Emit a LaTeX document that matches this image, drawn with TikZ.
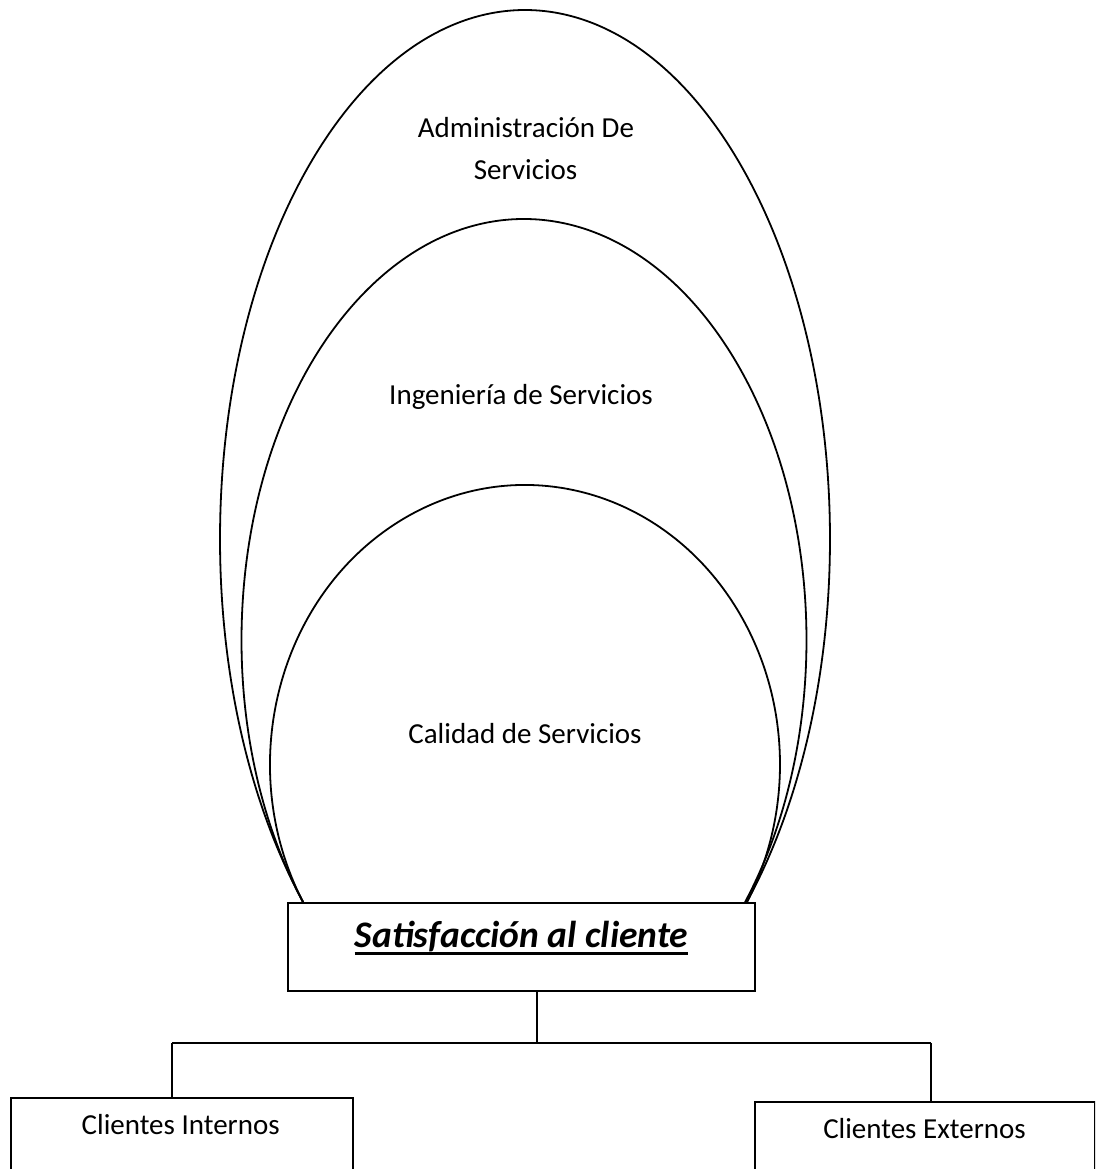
\documentclass[tikz,border=0pt]{standalone}
\usepackage{fontspec}
\setmainfont{Carlito}
\begin{document}
\begin{tikzpicture}[x=1pt,y=1pt,
  line/.style={line width=1.8pt},
  box/.style={draw, line width=2pt, inner sep=0pt},
  lbl/.style={inner sep=0pt, anchor=base, font=\fontsize{29}{42}\selectfont},
  title/.style={inner sep=0pt, anchor=base, font=\fontsize{37.5}{45}\selectfont\bfseries\itshape},
]
\useasboundingbox (0,0) rectangle (1095,1169);
\clip (0,0) rectangle (1095,1169);

% nested elliptical arcs resting on the central box
\draw[line] (525,630) ++(223.3:305pt and 529pt)
  arc[start angle=223.3, end angle=-43.3, x radius=305pt, y radius=529pt];
\draw[line] (524,529) ++(218.5:282.5pt and 421pt)
  arc[start angle=218.5, end angle=-38.5, x radius=282.5pt, y radius=421pt];
\draw[line] (525,404.5) ++(209.5:255pt and 279.5pt)
  arc[start angle=209.5, end angle=-29.5, x radius=255pt, y radius=279.5pt];

% labels inside the arcs
\node[lbl] (adm1) at (526,1031) {Administración De};
\node[lbl] (adm2) at (525.6,989) {Servicios};
\node[lbl] (ing) at (521,764) {Ingeniería de Servicios};
\node[lbl] (cal) at (525,425) {Calidad de Servicios};

% central box
\node[box, minimum width=467pt, minimum height=88pt, anchor=north west, fill=white] (sat) at (287,267) {};
\node[title] (satT) at (521.5,221) {Satisfacción al cliente};
\draw[line width=3pt] ([yshift=-6pt]satT.base west) -- ([yshift=-6pt]satT.base east);

% client boxes
\node[box, minimum width=342pt, minimum height=90pt, anchor=north west] (ci) at (10,72) {};
\node[box, minimum width=340pt, minimum height=90pt, anchor=north west] (ce) at (754,68) {};
\node[lbl] (ciT) at (180.7,34) {Clientes Internos};
\node[lbl] (ceT) at (924.5,30) {Clientes Externos};

% tree connectors
\coordinate (bus) at (537,126);
\coordinate (busL) at (172,126);
\coordinate (busR) at (931,126);
\draw[line] (sat.south -| bus) -- (bus);
\draw[line] (busL) -- (busR);
\draw[line] (busL) -- (busL |- ci.north);
\draw[line] (busR) -- (busR |- ce.north);
\end{tikzpicture}
\end{document}
